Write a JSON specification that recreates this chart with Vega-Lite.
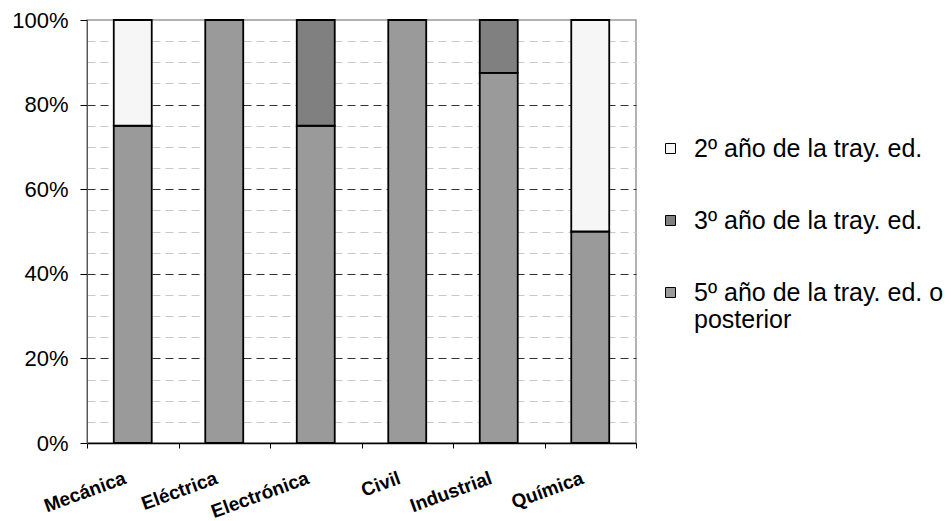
{
  "$schema": "https://vega.github.io/schema/vega-lite/v6.json",
  "width": 549,
  "height": 423,
  "autosize": {"type": "none"},
  "padding": {"left": 87, "top": 20, "right": 315, "bottom": 78},
  "background": "white",
  "config": {
    "font": "Liberation Sans",
    "view": {"stroke": "#999999", "strokeWidth": 1.5}
  },
  "data": {
    "values": [
      {"carrera": "Mecánica", "año": "5º año de la tray. ed. o posterior", "porcentaje": 75},
      {"carrera": "Mecánica", "año": "2º año de la tray. ed.", "porcentaje": 25},
      {"carrera": "Eléctrica", "año": "5º año de la tray. ed. o posterior", "porcentaje": 100},
      {"carrera": "Electrónica", "año": "5º año de la tray. ed. o posterior", "porcentaje": 75},
      {"carrera": "Electrónica", "año": "3º año de la tray. ed.", "porcentaje": 25},
      {"carrera": "Civil", "año": "5º año de la tray. ed. o posterior", "porcentaje": 100},
      {"carrera": "Industrial", "año": "5º año de la tray. ed. o posterior", "porcentaje": 87.5},
      {"carrera": "Industrial", "año": "3º año de la tray. ed.", "porcentaje": 12.5},
      {"carrera": "Química", "año": "5º año de la tray. ed. o posterior", "porcentaje": 50},
      {"carrera": "Química", "año": "2º año de la tray. ed.", "porcentaje": 50}
    ]
  },
  "mark": {"type": "bar", "stroke": "black", "strokeWidth": 1.8, "width": {"band": 0.415}},
  "encoding": {
    "x": {
      "field": "carrera",
      "type": "nominal",
      "sort": ["Mecánica", "Eléctrica", "Electrónica", "Civil", "Industrial", "Química"],
      "scale": {"paddingInner": 0, "paddingOuter": 0},
      "axis": {
        "title": null,
        "tickBand": "extent",
        "labelAngle": -20,
        "labelAlign": "right",
        "labelBaseline": "middle",
        "labelFontSize": 19,
        "labelFontWeight": "bold",
        "labelColor": "black",
        "labelPadding": 29,
        "labelOffset": -8,
        "tickSize": 5,
        "tickColor": "black",
        "domainColor": "black",
        "domainWidth": 1.5,
        "grid": false
      }
    },
    "y": {
      "field": "porcentaje",
      "type": "quantitative",
      "stack": "zero",
      "scale": {"domain": [0, 100], "nice": false},
      "axis": {
        "title": null,
        "values": [0, 5, 10, 15, 20, 25, 30, 35, 40, 45, 50, 55, 60, 65, 70, 75, 80, 85, 90, 95, 100],
        "labelExpr": "datum.value % 20 == 0 ? datum.value + '%' : ''",
        "labelFontSize": 22,
        "labelColor": "black",
        "labelPadding": 12,
        "tickSize": 7,
        "tickColor": "black",
        "tickOpacity": {"condition": {"test": "datum.value % 20 != 0", "value": 0}, "value": 1},
        "domainColor": "#555555",
        "domainWidth": 1,
        "grid": true,
        "gridDash": [8, 5],
        "gridWidth": 1,
        "gridColor": {"condition": {"test": "datum.value % 20 == 0", "value": "#333333"}, "value": "#c8c8c8"},
        "gridOpacity": {"condition": {"test": "datum.value == 0 || datum.value == 100", "value": 0}, "value": 1}
      }
    },
    "color": {
      "field": "año",
      "type": "nominal",
      "scale": {
        "domain": ["2º año de la tray. ed.", "3º año de la tray. ed.", "5º año de la tray. ed. o posterior"],
        "range": ["#f6f6f6", "#808080", "#9a9a9a"]
      },
      "legend": {
        "title": null,
        "orient": "none",
        "legendX": 571,
        "legendY": 116,
        "padding": 0,
        "symbolType": "square",
        "symbolSize": 100,
        "symbolStrokeColor": "black",
        "symbolStrokeWidth": 1,
        "labelFontSize": 25,
        "labelColor": "black",
        "labelOffset": 11,
        "labelLimit": 400,
        "rowPadding": 46,
        "labelExpr": "datum.label == '5º año de la tray. ed. o posterior' ? ['5º año de la tray. ed. o', 'posterior'] : datum.label"
      }
    },
    "order": {"field": "año", "type": "ordinal", "sort": "descending"}
  }
}
